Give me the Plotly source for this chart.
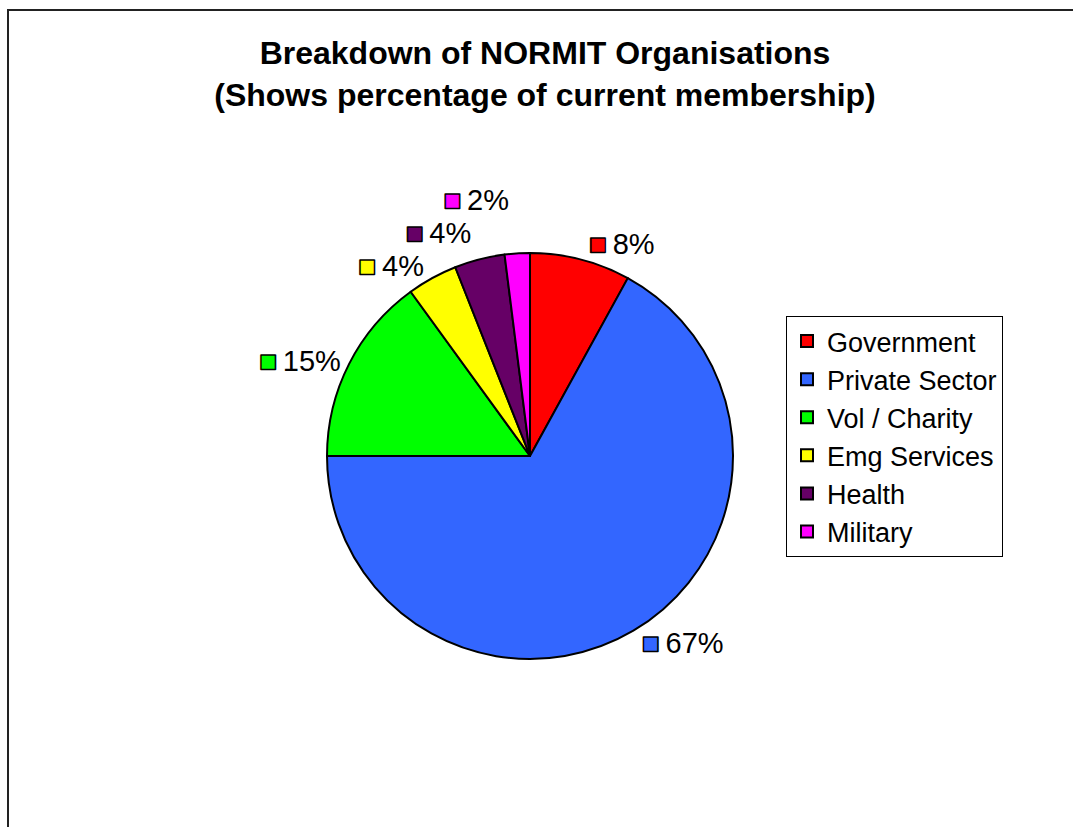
import plotly.graph_objects as go

# data
categories = ["Government", "Private Sector", "Vol / Charity", "Emg Services", "Health", "Military"]
shares = [8, 67, 15, 4, 4, 2]
colors = ["#FF0000", "#3366FF", "#00FF00", "#FFFF00", "#660066", "#FF00FF"]

FONT = "Liberation Sans, Arial, sans-serif"
W, H = 1073, 827

# pie centre / radius in pixels
CX, CY, R = 530, 456, 203

labels_txt = [
    f"<span style='fill:{c};stroke:black;stroke-width:1.5px;font-size:30px'>■</span>\u2009{v}%"
    for c, v in zip(colors, shares)
]

fig = go.Figure(go.Pie(
    labels=categories,
    values=shares,
    text=labels_txt,
    textinfo="text",
    textposition="outside",
    outsidetextfont=dict(size=29, color="black", family=FONT),
    marker=dict(colors=colors, line=dict(color="black", width=2)),
    sort=False,
    direction="clockwise",
    rotation=0,
    domain=dict(x=[(CX - R) / W, (CX + R) / W],
                y=[(H - CY - R) / H, (H - CY + R) / H]),
    hoverinfo="label+percent",
))

fig.update_layout(
    width=W, height=H,
    margin=dict(l=0, r=0, t=0, b=0),
    paper_bgcolor="white",
    font=dict(family=FONT, color="black"),
    title=dict(
        text="<b>Breakdown of NORMIT Organisations<br>(Shows percentage of current membership)</b>",
        x=545 / W, xanchor="center",
        y=1 - 64 / H, yanchor="top",
        font=dict(size=32, family=FONT, color="black"),
    ),
    legend=dict(
        x=786 / W, xanchor="left",
        y=1 - 316 / H, yanchor="top",
        bordercolor="black", borderwidth=1,
        bgcolor="white",
        itemwidth=30,
        font=dict(size=27, family=FONT, color="black"),
    ),
    shapes=[dict(
        type="rect", xref="paper", yref="paper",
        x0=8 / W, x1=1.02, y0=-0.02, y1=1 - 10 / H,
        line=dict(color="#222222", width=2),
    )],
)

# the original has no leader lines from the labels
fig.write_html(
    "out.html", config={"displayModeBar": False},
    post_script="document.body.style.margin='0';"
                "document.querySelectorAll('path.textline').forEach(function(p){p.remove();});",
)
